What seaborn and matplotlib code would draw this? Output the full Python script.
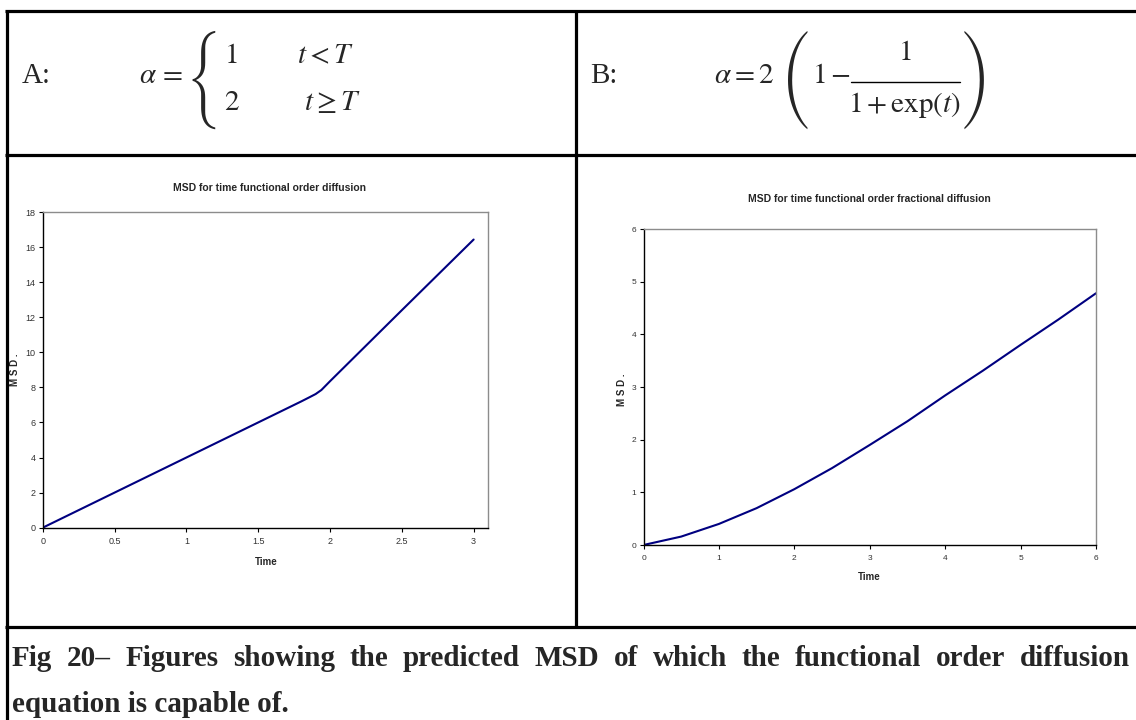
import matplotlib
matplotlib.use("Agg")
import matplotlib.pyplot as plt
from matplotlib.lines import Line2D
import seaborn as sns

# Panel A: MSD for the step change of order at t = T
time_a = [0.0, 0.5, 1.0, 1.5, 1.8, 1.86, 1.9, 1.94, 2.0, 2.5, 3.0]
msd_a = [0.0, 2.0, 4.0, 6.0, 7.2, 7.45, 7.62, 7.85, 8.35, 12.4, 16.43]
xticks_a = [0, 0.5, 1, 1.5, 2, 2.5, 3]
yticks_a = [0, 2, 4, 6, 8, 10, 12, 14, 16, 18]

# Panel B: MSD for the smooth logistic change of order
time_b = [0.0, 0.5, 1.0, 1.5, 2.0, 2.5, 3.0, 3.5, 4.0, 4.5, 5.0, 5.5, 6.0]
msd_b = [0.0, 0.16, 0.40, 0.70, 1.06, 1.46, 1.90, 2.35, 2.84, 3.31, 3.80, 4.28, 4.78]
xticks_b = [0, 1, 2, 3, 4, 5, 6]
yticks_b = [0, 1, 2, 3, 4, 5, 6]

title_a = "MSD for time functional order diffusion"
title_b = "MSD for time functional order fractional diffusion"
xlabel = "Time"
ylabel = "M S D ."
caption_1 = "Fig 20\u2013 Figures showing the predicted MSD of which the functional order diffusion"
caption_2 = "equation is capable of."

W, H = 1136, 720
sns.set_theme(style="white")
plt.rcParams["font.family"] = ["Liberation Sans Narrow", "Liberation Sans", "DejaVu Sans"]
plt.rcParams["mathtext.fontset"] = "stix"

fig = plt.figure(figsize=(W / 100, H / 100), dpi=100)
fig.patch.set_facecolor("white")


def fx(px):
    return px / W


def fy(py):
    return 1 - py / H


# table rules
rule_kw = dict(color="black", lw=2.3, transform=fig.transFigure, solid_capstyle="butt")
fig.add_artist(Line2D([fx(5), 1], [fy(11), fy(11)], **rule_kw))
fig.add_artist(Line2D([fx(5), 1], [fy(155), fy(155)], **rule_kw))
fig.add_artist(Line2D([fx(5), 1], [fy(627), fy(627)], **rule_kw))
fig.add_artist(Line2D([fx(7), fx(7)], [fy(10), 0], **rule_kw))
fig.add_artist(Line2D([fx(576), fx(576)], [fy(10), fy(628)], **rule_kw))

serif = ["Liberation Serif", "DejaVu Serif"]
fs_eq = 21

# formula A
fig.text(fx(22), fy(83), "A:", fontsize=fs_eq, family=serif, va="baseline")
fig.text(fx(139), fy(83), r"$\alpha\,=$", fontsize=fs_eq, va="baseline")
fig.text(fx(221), fy(80), "{", fontsize=23, family=["STIXSizeFourSym"],
         va="center", ha="right")
fig.text(fx(224), fy(63), r"$1$", fontsize=fs_eq, va="baseline")
fig.text(fx(297), fy(63), r"$t<T$", fontsize=fs_eq, va="baseline")
fig.text(fx(224), fy(110), r"$2$", fontsize=fs_eq, va="baseline")
fig.text(fx(304), fy(110), r"$t\geq T$", fontsize=fs_eq, va="baseline")

# formula B
fig.text(fx(590), fy(83), "B:", fontsize=fs_eq, family=serif, va="baseline")
fig.text(fx(714), fy(83), r"$\alpha = 2$", fontsize=fs_eq, va="baseline")
fig.text(fx(784), fy(80), "(", fontsize=23, family=["STIXSizeFourSym"], va="center")
fig.text(fx(812), fy(83), r"$1-$", fontsize=fs_eq, va="baseline")
fig.text(fx(905), fy(60), r"$1$", fontsize=fs_eq, va="baseline", ha="center")
fig.add_artist(Line2D([fx(851), fx(960)], [fy(82), fy(82)], color="black", lw=1.0,
                      transform=fig.transFigure))
fig.text(fx(905), fy(112), r"$1+\exp(t)$", fontsize=fs_eq, va="baseline", ha="center")
fig.text(fx(962), fy(80), ")", fontsize=23, family=["STIXSizeFourSym"], va="center")


def style_axes(ax, xticks, yticks, xlim, ylim):
    ax.set_xlim(*xlim)
    ax.set_ylim(*ylim)
    ax.set_xticks(xticks)
    ax.set_yticks(yticks)
    ax.set_xticklabels([f"{v:g}" for v in xticks])
    ax.set_yticklabels([f"{v:g}" for v in yticks])
    ax.tick_params(axis="both", which="major", direction="out", length=3, width=0.8,
                   color="black", labelsize=6.5, labelcolor="#333333", pad=4,
                   left=True, bottom=True)
    ax.tick_params(axis="y", pad=2)
    for side in ("left", "bottom"):
        ax.spines[side].set_color("black")
        ax.spines[side].set_linewidth(1.0)
    for side in ("top", "right"):
        ax.spines[side].set_color("#8c8c8c")
        ax.spines[side].set_linewidth(1.0)
    ax.grid(False)
    ax.set_facecolor("white")


line_color = "#000080"

# panel A
ax_a = fig.add_axes([fx(42.7), fy(527.7), fx(488 - 42.7), (527.7 - 212) / H])
sns.lineplot(x=time_a, y=msd_a, ax=ax_a, color=line_color, linewidth=1.5,
             sort=False, estimator=None)
style_axes(ax_a, xticks_a, yticks_a, (0, 3.1), (0, 18))
ax_a.set_xlabel(xlabel, fontsize=7, fontweight="bold")
ax_a.set_ylabel(ylabel, fontsize=7, fontweight="bold")
ax_a.xaxis.set_label_coords(0.502, -0.093)
ax_a.yaxis.set_label_coords(-0.052, 0.50)
ax_a.text(0.51, 1.076, title_a, transform=ax_a.transAxes, ha="center", va="center",
          fontsize=7.5, fontweight="bold")

# panel B
ax_b = fig.add_axes([fx(643.5), fy(545), fx(1096 - 643.5), (545 - 229) / H])
sns.lineplot(x=time_b, y=msd_b, ax=ax_b, color=line_color, linewidth=1.5,
             sort=False, estimator=None)
style_axes(ax_b, xticks_b, yticks_b, (0, 6), (0, 6))
ax_b.tick_params(labelsize=6)
ax_b.set_xlabel(xlabel, fontsize=7, fontweight="bold")
ax_b.set_ylabel(ylabel, fontsize=7, fontweight="bold")
ax_b.xaxis.set_label_coords(0.5, -0.085)
ax_b.yaxis.set_label_coords(-0.036, 0.49)
ax_b.text(0.5, 1.095, title_b, transform=ax_b.transAxes, ha="center", va="center",
          fontsize=7.5, fontweight="bold")

# caption: first line justified between the margins, second line flush left
cap_kw = dict(fontsize=21, family=serif, fontweight="bold", va="baseline")
renderer = fig.canvas.get_renderer()
words = caption_1.split(" ")
artists = [fig.text(0, fy(666), w, **cap_kw) for w in words]
widths = [a.get_window_extent(renderer).width for a in artists]
left, right = 12, 1130
gap = (right - left - sum(widths)) / (len(words) - 1)
x = left
for a, w in zip(artists, widths):
    a.set_x(fx(x))
    x += w + gap
fig.text(fx(left), fy(712), caption_2, **cap_kw)

fig.savefig("out.png", dpi=100, facecolor="white")
